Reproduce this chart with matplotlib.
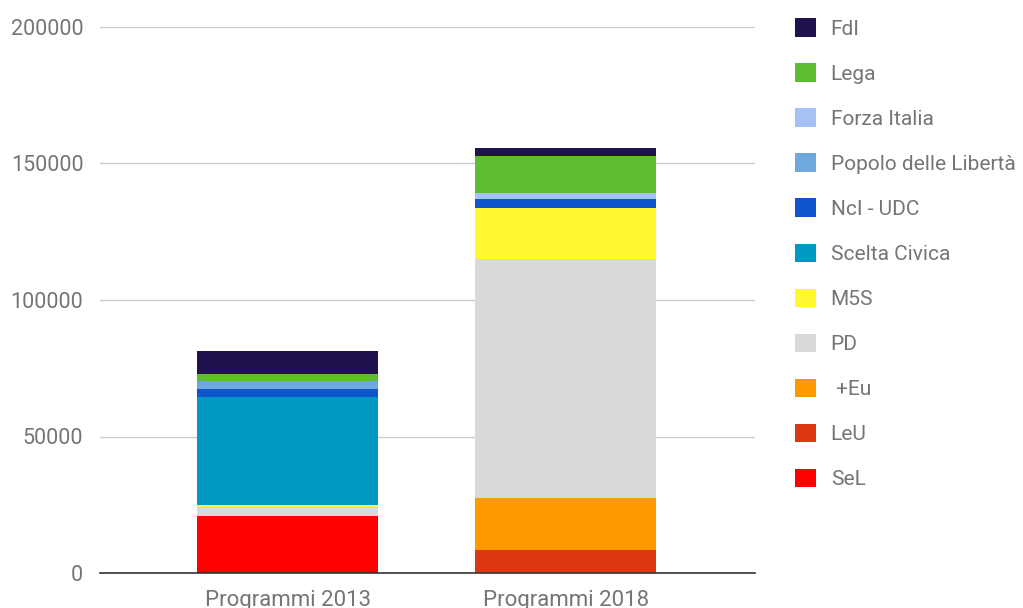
import matplotlib
matplotlib.use('Agg')
import matplotlib.pyplot as plt
import matplotlib.patches as mpatches
import numpy as np

plt.rcParams['font.family'] = ['Roboto', 'DejaVu Sans']

# categories and stacked series (bottom to top)
categories = ['Programmi 2013', 'Programmi 2018']
parties = ['SeL', 'LeU', ' +Eu', 'PD', 'M5S', 'Scelta Civica', 'NcI - UDC',
           'Popolo delle Libertà', 'Forza Italia', 'Lega', 'FdI']
values = {
    'SeL':                  [21000, 0],
    'LeU':                  [0, 8400],
    ' +Eu':                 [0, 19100],
    'PD':                   [3300, 87400],
    'M5S':                  [700, 18900],
    'Scelta Civica':        [39400, 0],
    'NcI - UDC':            [3100, 3300],
    'Popolo delle Libertà': [2700, 0],
    'Forza Italia':         [0, 2000],
    'Lega':                 [2600, 13800],
    'FdI':                  [8600, 2600],
}
colors = {
    'SeL': '#ff0000',
    'LeU': '#dc3912',
    ' +Eu': '#ff9900',
    'PD': '#d9d9d9',
    'M5S': '#fff730',
    'Scelta Civica': '#0099c6',
    'NcI - UDC': '#1155cc',
    'Popolo delle Libertà': '#6fa8dc',
    'Forza Italia': '#a4c2f4',
    'Lega': '#5bbd2f',
    'FdI': '#20124d',
}
yticks = [0, 50000, 100000, 150000, 200000]

fig = plt.figure(figsize=(10.23, 6.08), dpi=100)
ax = fig.add_axes([100 / 1023, 35 / 608, 655 / 1023, 546 / 608])

x = np.arange(len(categories))
bottom = np.zeros(len(categories))
for p in parties:
    v = np.array(values[p], dtype=float)
    ax.bar(x, v, width=0.65, bottom=bottom, color=colors[p], linewidth=0, zorder=3)
    bottom += v

ax.set_ylim(0, 200000)
ax.set_xlim(-0.675, 1.68)
ax.set_yticks(yticks)
ax.set_yticklabels([str(t) for t in yticks])
ax.set_xticks(x)
ax.set_xticklabels(categories)
ax.grid(axis='y', color='#cccccc', linewidth=1, zorder=0)
for s in ['top', 'right', 'left']:
    ax.spines[s].set_visible(False)
ax.spines['bottom'].set_color('#333333')
ax.spines['bottom'].set_linewidth(1.2)
ax.spines['bottom'].set_zorder(4)
ax.tick_params(axis='both', length=0, labelcolor='#757575')
ax.tick_params(axis='y', pad=12, labelsize=15.5)
ax.tick_params(axis='x', pad=12, labelsize=16)

handles = [mpatches.Patch(facecolor=colors[p], edgecolor='none') for p in reversed(parties)]
leg = fig.legend(handles, list(reversed(parties)), loc='upper left',
                 bbox_to_anchor=(787 / 1023, 1 - 10 / 608), frameon=False,
                 fontsize=15, handlelength=1.0, handleheight=1.0,
                 labelspacing=1.18, handletextpad=0.7, borderaxespad=0)
for t in leg.get_texts():
    t.set_color('#757575')

fig.savefig('out.png', dpi=100)
